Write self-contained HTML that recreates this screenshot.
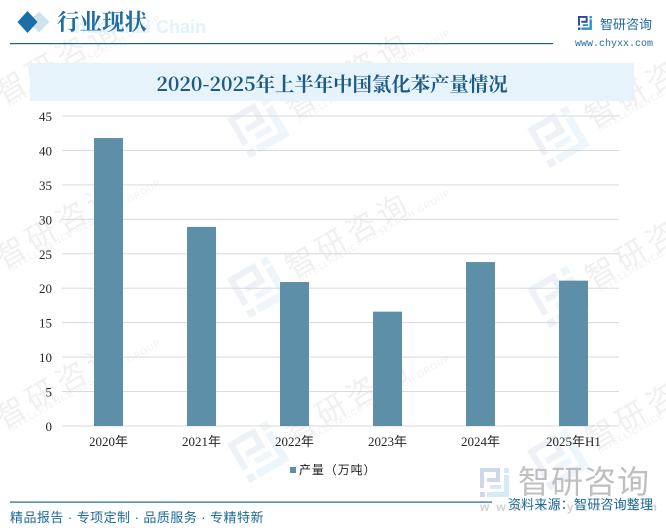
<!DOCTYPE html>
<html lang="zh">
<head>
<meta charset="utf-8">
<title>2020-2025年上半年中国氯化苯产量情况</title>
<style>
html,body{margin:0;padding:0;background:#fff;width:666px;height:532px;overflow:hidden;}
#stage{display:block;width:666px;height:532px;overflow:hidden;}
.wm-cn{font-family:"Liberation Sans","Noto Sans CJK SC",sans-serif;font-size:30px;fill:#f0f0f0;letter-spacing:5px;}
.wm-en{font-family:"Liberation Sans",sans-serif;font-size:9px;fill:#f1f1f1;letter-spacing:.8px;}
.tick{font-family:"Liberation Serif","Noto Sans CJK SC",sans-serif;font-size:13px;fill:#262626;}
</style>
</head>
<body>
<svg id="stage" xmlns="http://www.w3.org/2000/svg" width="666" height="532" viewBox="0 0 666 532">
  <defs>
    <g id="logo-mark">
      <path d="M0 0H20V14H7V10H16V4H4V20H0Z"/>
      <rect x="0" y="24" width="5" height="5"/>
      <path fill="currentColor" d="M24 7H29V29H7V24H24Z"/>
      <rect fill="currentColor" x="24" y="0" width="5" height="5"/>
      <rect fill="currentColor" x="10" y="17" width="11" height="4"/>
    </g>
  </defs>
  <rect width="666" height="532" fill="#fff"/>

  <g id="watermarks"></g>

  <g>
    <text x="70" y="33" font-family="Liberation Sans, sans-serif" font-size="18" font-weight="700" fill="#e4f2fb">Industrial Chain</text>
    <path d="M39 11.5L49.5 22L39 32.5L28.5 22Z" fill="#cfe3ee"/>
    <path d="M27.5 11L37.5 22L27.5 33L17.5 22Z" fill="#1a6fa8"/>
    <text x="57" y="30" font-family="Noto Serif CJK SC, serif" font-size="22.5" font-weight="700" fill="#1f6fa3">行业现状</text>
    <rect x="10" y="43" width="543" height="1.2" fill="#1f5f8b"/>
    <g transform="translate(578,16) scale(.48)" fill="#2b4a9b" color="#2f8fd0"><use href="#logo-mark"/></g>
    <text x="600" y="29" font-family="Liberation Sans, Noto Sans CJK SC, sans-serif" font-size="13" fill="#1c6a9c">智研咨询</text>
    <text x="575" y="46" font-family="Liberation Mono, monospace" font-size="10" fill="#2a6c96">www.chyxx.com</text>
  </g>

  <rect x="30" y="63" width="604" height="38" fill="#e6f3fb"/>
  <text x="332" y="91" text-anchor="middle" font-family="Noto Serif CJK SC, serif" font-size="19.4" font-weight="700" fill="#1d5b84">2020-2025年上半年中国氯化苯产量情况</text>

  <g id="grid"></g>
  <g id="yticks"></g>
  <g id="bars"></g>
  <g id="xticks"></g>

  <g>
    <rect x="290" y="467" width="6" height="6" fill="#5d90a8"/>
    <text x="299" y="474" font-family="Liberation Sans, Noto Sans CJK SC, sans-serif" font-size="12" letter-spacing=".9" fill="#222">产量（万吨）</text>
  </g>

  <g>
    <g transform="translate(480,468)" fill="#cfd8e8" color="#d6eaf5"><use href="#logo-mark"/></g>
    <text x="518" y="493" font-family="Liberation Sans, Noto Sans CJK SC, sans-serif" font-size="32" letter-spacing="1" fill="#bfbfbf">智研咨询</text>
    <text x="480" y="511" font-family="Liberation Sans, sans-serif" font-size="12" font-weight="700" letter-spacing="7" fill="#d2d2d2">www.chyxx.com</text>
  </g>

  <g>
    <rect x="10" y="501.5" width="482" height="1.2" fill="#1a6a9a"/>
    <text x="10" y="522" font-family="Liberation Sans, Noto Sans CJK SC, sans-serif" font-size="13" letter-spacing=".45" fill="#1a6a9a">精品报告 · 专项定制 · 品质服务 · 专精特新</text>
    <text x="508" y="509" font-family="Liberation Sans, Noto Sans CJK SC, sans-serif" font-size="13" letter-spacing=".2" fill="#1a6a9a">资料来源：智研咨询整理</text>
  </g>
</svg>
<script>
const categories = ['2020年', '2021年', '2022年', '2023年', '2024年', '2025年H1'];
const production = [41.8, 28.9, 20.9, 16.6, 23.8, 21.1];
const yTickLabels = [0, 5, 10, 15, 20, 25, 30, 35, 40, 45];
const watermarkRows = [[10, 85], [300, 100], [600, 110], [10, 250], [300, 260], [600, 270], [10, 410], [300, 425], [600, 432]];

const SVG_NS = 'http://www.w3.org/2000/svg';
const plotLeft = 62, plotRight = 619, plotBottom = 426, plotTop = 116;
const bandWidth = 93;
const barWidth = 29;
const yMax = 45;
function yScale(v) { return plotBottom - (v / yMax) * (plotBottom - plotTop); }
function xCenter(i) { return plotLeft + (i + 0.5) * bandWidth; }

const gridLayer = document.getElementById('grid');
const yLayer = document.getElementById('yticks');
yTickLabels.forEach(function (t) {
  const line = document.createElementNS(SVG_NS, 'rect');
  line.setAttribute('x', plotLeft);
  line.setAttribute('y', yScale(t) - 0.5);
  line.setAttribute('width', plotRight - plotLeft);
  line.setAttribute('height', 1);
  line.setAttribute('fill', '#d9d9d9');
  
  
  gridLayer.appendChild(line);

  const label = document.createElementNS(SVG_NS, 'text');
  label.setAttribute('x', 52);
  label.setAttribute('y', yScale(t) + 5);
  label.setAttribute('text-anchor', 'end');
  label.setAttribute('class', 'tick');
  label.textContent = t;
  
  
  yLayer.appendChild(label);
});

const barLayer = document.getElementById('bars');
const xLayer = document.getElementById('xticks');
categories.forEach(function (c, i) {
  const bar = document.createElementNS(SVG_NS, 'rect');
  bar.setAttribute('x', Math.round(xCenter(i) - barWidth / 2));
  bar.setAttribute('y', yScale(production[i]));
  bar.setAttribute('width', barWidth);
  bar.setAttribute('height', plotBottom - yScale(production[i]));
  bar.setAttribute('fill', '#5d90a8');
  
  
  barLayer.appendChild(bar);

  const label = document.createElementNS(SVG_NS, 'text');
  label.setAttribute('x', xCenter(i));
  label.setAttribute('y', 446);
  label.setAttribute('text-anchor', 'middle');
  label.setAttribute('class', 'tick');
  label.textContent = c;
  
  
  xLayer.appendChild(label);
});

const wmLayer = document.getElementById('watermarks');
watermarkRows.forEach(function (p) {
  const g = document.createElementNS(SVG_NS, 'g');
  
  

  const logo = document.createElementNS(SVG_NS, 'g');
  logo.setAttribute('transform', 'translate(' + (p[0] - 73) + ',' + (p[1] + 18.6) + ') rotate(-30) scale(1.58)');
  logo.setAttribute('fill', '#eef2f7');
  logo.setAttribute('color', '#eef6fb');
  const use = document.createElementNS(SVG_NS, 'use');
  use.setAttribute('href', '#logo-mark');
  logo.appendChild(use);
  
  
  g.appendChild(logo);

  const cn = document.createElementNS(SVG_NS, 'text');
  cn.setAttribute('transform', 'translate(' + (p[0] - 7) + ',' + (p[1] + 19) + ') rotate(-30)');
  cn.setAttribute('class', 'wm-cn');
  cn.textContent = '智研咨询';
  
  
  g.appendChild(cn);

  const en = document.createElementNS(SVG_NS, 'text');
  en.setAttribute('transform', 'translate(' + p[0] + ',' + (p[1] + 22) + ') rotate(-30)');
  en.setAttribute('class', 'wm-en');
  en.textContent = 'INTELLIGENCE RESEARCH GROUP';
  
  
  g.appendChild(en);

  wmLayer.appendChild(g);
});
</script>
</body>
</html>
